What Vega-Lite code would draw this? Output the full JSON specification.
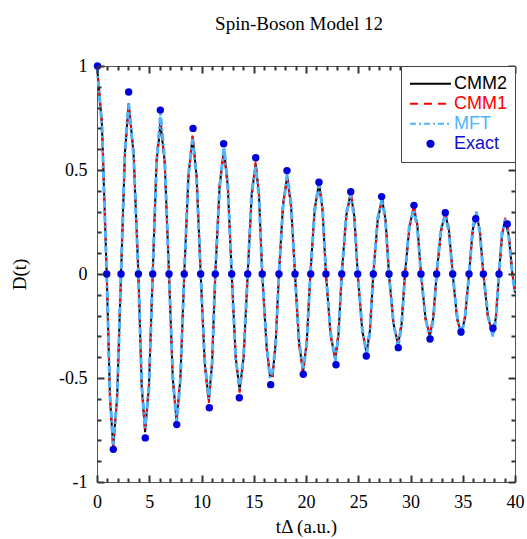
{
  "$schema": "https://vega.github.io/schema/vega-lite/v6.json",
  "width": 418,
  "height": 416,
  "autosize": "none",
  "padding": {"left": 97, "top": 66, "right": 12, "bottom": 57},
  "background": "white",
  "title": {"text": "Spin-Boson Model 12", "font": "Liberation Serif", "fontSize": 19, "fontWeight": "normal", "color": "black", "offset": 23, "dx": -7},
  "datasets": {
    "curves": [
      {"t": 0, "CMM2": 1.0, "CMM1": 1.0, "MFT": 1.0},
      {"t": 0.47, "CMM2": 0.72, "CMM1": 0.73, "MFT": 0.71},
      {"t": 0.93, "CMM2": 0, "CMM1": 0, "MFT": 0},
      {"t": 1.24, "CMM2": -0.59, "CMM1": -0.6, "MFT": -0.58},
      {"t": 1.55, "CMM2": -0.83, "CMM1": -0.84, "MFT": -0.82},
      {"t": 1.93, "CMM2": -0.59, "CMM1": -0.58, "MFT": -0.6},
      {"t": 2.3, "CMM2": 0, "CMM1": 0, "MFT": 0},
      {"t": 2.67, "CMM2": 0.58, "CMM1": 0.57, "MFT": 0.59},
      {"t": 3.03, "CMM2": 0.82, "CMM1": 0.81, "MFT": 0.82},
      {"t": 3.5, "CMM2": 0.58, "CMM1": 0.59, "MFT": 0.57},
      {"t": 3.96, "CMM2": 0, "CMM1": 0, "MFT": 0},
      {"t": 4.28, "CMM2": -0.54, "CMM1": -0.55, "MFT": -0.53},
      {"t": 4.6, "CMM2": -0.76, "CMM1": -0.75, "MFT": -0.74},
      {"t": 4.97, "CMM2": -0.54, "CMM1": -0.53, "MFT": -0.55},
      {"t": 5.33, "CMM2": 0, "CMM1": 0, "MFT": 0},
      {"t": 5.7, "CMM2": 0.54, "CMM1": 0.55, "MFT": 0.53},
      {"t": 6.08, "CMM2": 0.72, "CMM1": 0.75, "MFT": 0.77},
      {"t": 6.48, "CMM2": 0.54, "CMM1": 0.53, "MFT": 0.55},
      {"t": 6.89, "CMM2": 0, "CMM1": 0, "MFT": 0},
      {"t": 7.25, "CMM2": -0.5, "CMM1": -0.51, "MFT": -0.49},
      {"t": 7.62, "CMM2": -0.71, "CMM1": -0.7, "MFT": -0.72},
      {"t": 7.98, "CMM2": -0.5, "CMM1": -0.49, "MFT": -0.51},
      {"t": 8.35, "CMM2": 0, "CMM1": 0, "MFT": 0},
      {"t": 8.75, "CMM2": 0.47, "CMM1": 0.46, "MFT": 0.48},
      {"t": 9.15, "CMM2": 0.66, "CMM1": 0.67, "MFT": 0.65},
      {"t": 9.53, "CMM2": 0.47, "CMM1": 0.48, "MFT": 0.46},
      {"t": 9.92, "CMM2": 0, "CMM1": 0, "MFT": 0},
      {"t": 10.31, "CMM2": -0.43, "CMM1": -0.44, "MFT": -0.42},
      {"t": 10.7, "CMM2": -0.61, "CMM1": -0.62, "MFT": -0.6},
      {"t": 11.01, "CMM2": -0.43, "CMM1": -0.42, "MFT": -0.44},
      {"t": 11.32, "CMM2": 0, "CMM1": 0, "MFT": 0},
      {"t": 11.73, "CMM2": 0.42, "CMM1": 0.43, "MFT": 0.41},
      {"t": 12.15, "CMM2": 0.6, "CMM1": 0.59, "MFT": 0.61},
      {"t": 12.52, "CMM2": 0.42, "CMM1": 0.41, "MFT": 0.43},
      {"t": 12.89, "CMM2": 0, "CMM1": 0, "MFT": 0},
      {"t": 13.27, "CMM2": -0.4, "CMM1": -0.39, "MFT": -0.41},
      {"t": 13.65, "CMM2": -0.56, "CMM1": -0.57, "MFT": -0.55},
      {"t": 14.03, "CMM2": -0.4, "CMM1": -0.41, "MFT": -0.39},
      {"t": 14.42, "CMM2": 0, "CMM1": 0, "MFT": 0},
      {"t": 14.8, "CMM2": 0.38, "CMM1": 0.37, "MFT": 0.39},
      {"t": 15.18, "CMM2": 0.53, "CMM1": 0.54, "MFT": 0.52},
      {"t": 15.5, "CMM2": 0.38, "CMM1": 0.39, "MFT": 0.37},
      {"t": 15.81, "CMM2": 0, "CMM1": 0, "MFT": 0},
      {"t": 16.23, "CMM2": -0.35, "CMM1": -0.36, "MFT": -0.34},
      {"t": 16.55, "CMM2": -0.49, "CMM1": -0.48, "MFT": -0.5},
      {"t": 16.8, "CMM2": -0.49, "CMM1": -0.49, "MFT": -0.47},
      {"t": 17.1, "CMM2": -0.33, "CMM1": -0.32, "MFT": -0.34},
      {"t": 17.41, "CMM2": 0, "CMM1": 0, "MFT": 0},
      {"t": 17.8, "CMM2": 0.33, "CMM1": 0.34, "MFT": 0.32},
      {"t": 18.2, "CMM2": 0.47, "CMM1": 0.46, "MFT": 0.48},
      {"t": 18.57, "CMM2": 0.33, "CMM1": 0.32, "MFT": 0.34},
      {"t": 18.95, "CMM2": 0, "CMM1": 0, "MFT": 0},
      {"t": 19.33, "CMM2": -0.33, "CMM1": -0.34, "MFT": -0.32},
      {"t": 19.72, "CMM2": -0.47, "CMM1": -0.48, "MFT": -0.46},
      {"t": 20.07, "CMM2": -0.33, "CMM1": -0.32, "MFT": -0.34},
      {"t": 20.42, "CMM2": 0, "CMM1": 0, "MFT": 0},
      {"t": 20.83, "CMM2": 0.31, "CMM1": 0.32, "MFT": 0.3},
      {"t": 21.25, "CMM2": 0.44, "CMM1": 0.43, "MFT": 0.44},
      {"t": 21.58, "CMM2": 0.31, "CMM1": 0.3, "MFT": 0.32},
      {"t": 21.91, "CMM2": 0, "CMM1": 0, "MFT": 0},
      {"t": 22.35, "CMM2": -0.29, "CMM1": -0.3, "MFT": -0.28},
      {"t": 22.8, "CMM2": -0.41, "CMM1": -0.4, "MFT": -0.42},
      {"t": 23.11, "CMM2": -0.29, "CMM1": -0.28, "MFT": -0.3},
      {"t": 23.42, "CMM2": 0, "CMM1": 0, "MFT": 0},
      {"t": 23.85, "CMM2": 0.28, "CMM1": 0.27, "MFT": 0.29},
      {"t": 24.28, "CMM2": 0.39, "CMM1": 0.4, "MFT": 0.38},
      {"t": 24.62, "CMM2": 0.28, "CMM1": 0.29, "MFT": 0.27},
      {"t": 24.95, "CMM2": 0, "CMM1": 0, "MFT": 0},
      {"t": 25.38, "CMM2": -0.27, "CMM1": -0.28, "MFT": -0.26},
      {"t": 25.8, "CMM2": -0.38, "CMM1": -0.37, "MFT": -0.39},
      {"t": 26.12, "CMM2": -0.27, "CMM1": -0.26, "MFT": -0.28},
      {"t": 26.44, "CMM2": 0, "CMM1": 0, "MFT": 0},
      {"t": 26.86, "CMM2": 0.26, "CMM1": 0.25, "MFT": 0.27},
      {"t": 27.28, "CMM2": 0.36, "CMM1": 0.37, "MFT": 0.36},
      {"t": 27.61, "CMM2": 0.26, "CMM1": 0.27, "MFT": 0.25},
      {"t": 27.94, "CMM2": 0, "CMM1": 0, "MFT": 0},
      {"t": 28.38, "CMM2": -0.24, "CMM1": -0.25, "MFT": -0.24},
      {"t": 28.82, "CMM2": -0.34, "CMM1": -0.33, "MFT": -0.35},
      {"t": 29.15, "CMM2": -0.24, "CMM1": -0.23, "MFT": -0.25},
      {"t": 29.47, "CMM2": 0, "CMM1": 0, "MFT": 0},
      {"t": 29.9, "CMM2": 0.23, "CMM1": 0.22, "MFT": 0.24},
      {"t": 30.32, "CMM2": 0.32, "CMM1": 0.33, "MFT": 0.31},
      {"t": 30.66, "CMM2": 0.23, "CMM1": 0.24, "MFT": 0.22},
      {"t": 31.0, "CMM2": 0, "CMM1": 0, "MFT": 0},
      {"t": 31.43, "CMM2": -0.21, "CMM1": -0.22, "MFT": -0.21},
      {"t": 31.85, "CMM2": -0.3, "CMM1": -0.29, "MFT": -0.31},
      {"t": 32.18, "CMM2": -0.21, "CMM1": -0.2, "MFT": -0.22},
      {"t": 32.5, "CMM2": 0, "CMM1": 0, "MFT": 0},
      {"t": 32.92, "CMM2": 0.21, "CMM1": 0.2, "MFT": 0.22},
      {"t": 33.33, "CMM2": 0.29, "CMM1": 0.3, "MFT": 0.28},
      {"t": 33.68, "CMM2": 0.21, "CMM1": 0.22, "MFT": 0.2},
      {"t": 34.04, "CMM2": 0, "CMM1": 0, "MFT": 0},
      {"t": 34.45, "CMM2": -0.21, "CMM1": -0.22, "MFT": -0.2},
      {"t": 34.85, "CMM2": -0.29, "CMM1": -0.28, "MFT": -0.3},
      {"t": 35.22, "CMM2": -0.21, "CMM1": -0.2, "MFT": -0.21},
      {"t": 35.6, "CMM2": 0, "CMM1": 0, "MFT": 0},
      {"t": 35.95, "CMM2": 0.21, "CMM1": 0.2, "MFT": 0.22},
      {"t": 36.3, "CMM2": 0.29, "CMM1": 0.28, "MFT": 0.3},
      {"t": 36.63, "CMM2": 0.21, "CMM1": 0.22, "MFT": 0.2},
      {"t": 36.97, "CMM2": 0, "CMM1": 0, "MFT": 0},
      {"t": 37.42, "CMM2": -0.21, "CMM1": -0.22, "MFT": -0.2},
      {"t": 37.88, "CMM2": -0.29, "CMM1": -0.28, "MFT": -0.3},
      {"t": 38.17, "CMM2": -0.21, "CMM1": -0.2, "MFT": -0.22},
      {"t": 38.47, "CMM2": 0, "CMM1": 0, "MFT": 0},
      {"t": 38.76, "CMM2": 0.19, "CMM1": 0.18, "MFT": 0.2},
      {"t": 39.05, "CMM2": 0.26, "CMM1": 0.27, "MFT": 0.25},
      {"t": 39.4, "CMM2": 0.19, "CMM1": 0.2, "MFT": 0.18},
      {"t": 39.75, "CMM2": 0, "CMM1": 0, "MFT": 0},
      {"t": 40, "CMM2": -0.09, "CMM1": -0.08, "MFT": -0.1}
    ],
    "exact": [
      {"t": 0.05, "D": 1.0},
      {"t": 0.93, "D": 0}, {"t": 1.56, "D": -0.843}, {"t": 2.3, "D": 0},
      {"t": 3.03, "D": 0.875}, {"t": 3.96, "D": 0}, {"t": 4.62, "D": -0.788},
      {"t": 5.33, "D": 0}, {"t": 6.06, "D": 0.788}, {"t": 6.89, "D": 0},
      {"t": 7.63, "D": -0.724}, {"t": 8.35, "D": 0}, {"t": 9.19, "D": 0.7},
      {"t": 9.92, "D": 0}, {"t": 10.75, "D": -0.643}, {"t": 11.32, "D": 0},
      {"t": 12.12, "D": 0.626}, {"t": 12.89, "D": 0}, {"t": 13.62, "D": -0.595},
      {"t": 14.42, "D": 0}, {"t": 15.19, "D": 0.559}, {"t": 15.81, "D": 0},
      {"t": 16.62, "D": -0.532}, {"t": 17.41, "D": 0}, {"t": 18.18, "D": 0.497},
      {"t": 18.95, "D": 0}, {"t": 19.74, "D": -0.482}, {"t": 20.45, "D": 0},
      {"t": 21.24, "D": 0.441}, {"t": 21.91, "D": 0}, {"t": 22.87, "D": -0.436},
      {"t": 23.42, "D": 0}, {"t": 24.28, "D": 0.396}, {"t": 24.95, "D": 0},
      {"t": 25.77, "D": -0.394}, {"t": 26.44, "D": 0}, {"t": 27.24, "D": 0.372},
      {"t": 27.94, "D": 0}, {"t": 28.83, "D": -0.354}, {"t": 29.47, "D": 0},
      {"t": 30.33, "D": 0.33}, {"t": 31.0, "D": 0}, {"t": 31.87, "D": -0.3125},
      {"t": 32.5, "D": 0}, {"t": 33.33, "D": 0.295}, {"t": 34.04, "D": 0},
      {"t": 34.83, "D": -0.279}, {"t": 35.6, "D": 0}, {"t": 36.24, "D": 0.266},
      {"t": 36.97, "D": 0}, {"t": 37.89, "D": -0.261}, {"t": 38.47, "D": 0},
      {"t": 39.26, "D": 0.24}
    ]
  },
  "layer": [
    {
      "data": {"name": "curves"},
      "mark": {"type": "line", "strokeWidth": 2},
      "encoding": {
        "x": {
          "field": "t", "type": "quantitative",
          "scale": {"domain": [0, 40], "nice": false, "zero": false},
          "axis": {
            "orient": "bottom", "offset": -7, "domain": false, "zindex": 1,
            "values": [0, 5, 10, 15, 20, 25, 30, 35, 40],
            "labelExpr": "'' + datum.value",
            "labelOverlap": false, "labelFlush": false,
            "labelFont": "Liberation Serif", "labelFontSize": 18, "labelColor": "black",
            "labelPadding": 11, "tickSize": 7, "ticks": true, "tickWidth": 2,
            "tickColor": "#333333", "grid": false,
            "title": "tΔ (a.u.)", "titleFont": "Liberation Serif", "titleFontSize": 19,
            "titleFontWeight": "normal", "titleColor": "black", "titlePadding": 6
          }
        },
        "y": {
          "field": "CMM2", "type": "quantitative",
          "scale": {"domain": [-1, 1], "nice": false, "zero": false},
          "axis": {
            "orient": "left", "offset": -7, "domain": false, "zindex": 1,
            "values": [-1, -0.5, 0, 0.5, 1],
            "labelExpr": "'' + datum.value",
            "labelOverlap": false, "labelFlush": false,
            "labelFont": "Liberation Serif", "labelFontSize": 18, "labelColor": "black",
            "labelPadding": 10, "tickSize": 7, "ticks": true, "tickWidth": 2,
            "tickColor": "#333333", "grid": false,
            "title": "D(t)", "titleFont": "Liberation Serif", "titleFontSize": 19,
            "titleFontWeight": "normal", "titleColor": "black", "titlePadding": 29
          }
        },
        "color": {
          "datum": "CMM2",
          "scale": {"domain": ["CMM2", "CMM1", "MFT", "Exact"], "range": ["#000000", "#ff0000", "#4db3ff", "#0000dd"]},
          "legend": {
            "orient": "top-right", "offset": 0, "title": null, "zindex": 2,
            "strokeColor": "#444", "fillColor": "white", "padding": 8,
            "labelFont": "Liberation Sans", "labelFontSize": 18, "labelOffset": 2,
            "symbolType": "stroke", "symbolSize": 1681, "symbolStrokeWidth": 2,
            "clipHeight": 19.5, "rowPadding": 0,
            "encode": {
              "symbols": {"update": {
                "shape": {"signal": "datum.value === 'Exact' ? 'M-0.15,0A0.15,0.15 0 1,0 0.15,0A0.15,0.15 0 1,0 -0.15,0Z' : 'stroke'"},
                "strokeDash": {"signal": "datum.value === 'CMM1' ? [8, 6] : datum.value === 'MFT' ? [6, 3, 2, 3] : [100, 0]"},
                "fill": {"signal": "datum.value === 'Exact' ? '#0000dd' : 'transparent'"},
                "stroke": {"signal": "datum.value === 'CMM2' ? '#000000' : datum.value === 'CMM1' ? '#ff0000' : datum.value === 'MFT' ? '#4db3ff' : '#0000dd'"},
                "opacity": {"value": 1}
              }},
              "labels": {"update": {
                "fill": {"signal": "datum.value === 'CMM2' ? '#000000' : datum.value === 'CMM1' ? '#ff0000' : datum.value === 'MFT' ? '#4db3ff' : '#1010cc'"}
              }}
            }
          }
        }
      }
    },
    {
      "data": {"name": "curves"},
      "mark": {"type": "line", "strokeWidth": 2, "strokeDash": [7, 5]},
      "encoding": {
        "x": {
          "field": "t", "type": "quantitative",
          "axis": {
            "orient": "top", "offset": -7, "domain": false, "zindex": 1,
            "values": [0, 5, 10, 15, 20, 25, 30, 35, 40],
            "labels": false, "title": null, "tickSize": 7, "ticks": true, "tickWidth": 2,
            "tickColor": "#333333", "grid": false
          }
        },
        "y": {
          "field": "CMM1", "type": "quantitative",
          "axis": {
            "orient": "right", "offset": -7, "domain": false, "zindex": 1,
            "values": [-1, -0.5, 0, 0.5, 1],
            "labels": false, "title": null, "tickSize": 7, "ticks": true, "tickWidth": 2,
            "tickColor": "#333333", "grid": false
          }
        },
        "color": {"datum": "CMM1"}
      }
    },
    {
      "data": {"name": "curves"},
      "mark": {"type": "line", "strokeWidth": 3, "strokeDash": [7, 3, 2, 3]},
      "encoding": {
        "x": {
          "field": "t", "type": "quantitative",
          "axis": {
            "orient": "bottom", "offset": -4, "domain": false, "zindex": 1,
            "values": [1,2,3,4,6,7,8,9,11,12,13,14,16,17,18,19,21,22,23,24,26,27,28,29,31,32,33,34,36,37,38,39],
            "labels": false, "title": null, "tickSize": 4, "ticks": true, "tickWidth": 2,
            "tickColor": "#333333", "grid": false
          }
        },
        "y": {
          "field": "MFT", "type": "quantitative",
          "axis": {
            "orient": "left", "offset": -4, "domain": false, "zindex": 1,
            "values": [-0.9,-0.8,-0.7,-0.6,-0.4,-0.3,-0.2,-0.1,0.1,0.2,0.3,0.4,0.6,0.7,0.8,0.9],
            "labels": false, "title": null, "tickSize": 4, "ticks": true, "tickWidth": 2,
            "tickColor": "#333333", "grid": false
          }
        },
        "color": {"datum": "MFT"}
      }
    },
    {
      "data": {"name": "exact"},
      "mark": {"type": "point", "filled": true, "size": 55, "opacity": 1},
      "encoding": {
        "x": {
          "field": "t", "type": "quantitative",
          "axis": {
            "orient": "top", "offset": -4, "domain": false, "zindex": 1,
            "values": [1,2,3,4,6,7,8,9,11,12,13,14,16,17,18,19,21,22,23,24,26,27,28,29,31,32,33,34,36,37,38,39],
            "labels": false, "title": null, "tickSize": 4, "ticks": true, "tickWidth": 2,
            "tickColor": "#333333", "grid": false
          }
        },
        "y": {
          "field": "D", "type": "quantitative",
          "axis": {
            "orient": "right", "offset": -4, "domain": false, "zindex": 1,
            "values": [-0.9,-0.8,-0.7,-0.6,-0.4,-0.3,-0.2,-0.1,0.1,0.2,0.3,0.4,0.6,0.7,0.8,0.9],
            "labels": false, "title": null, "tickSize": 4, "ticks": true, "tickWidth": 2,
            "tickColor": "#333333", "grid": false
          }
        },
        "color": {"datum": "Exact"}
      }
    }
  ],
  "resolve": {"axis": {"x": "independent", "y": "independent"}},
  "config": {
    "view": {"stroke": "#555", "strokeWidth": 1}
  }
}
